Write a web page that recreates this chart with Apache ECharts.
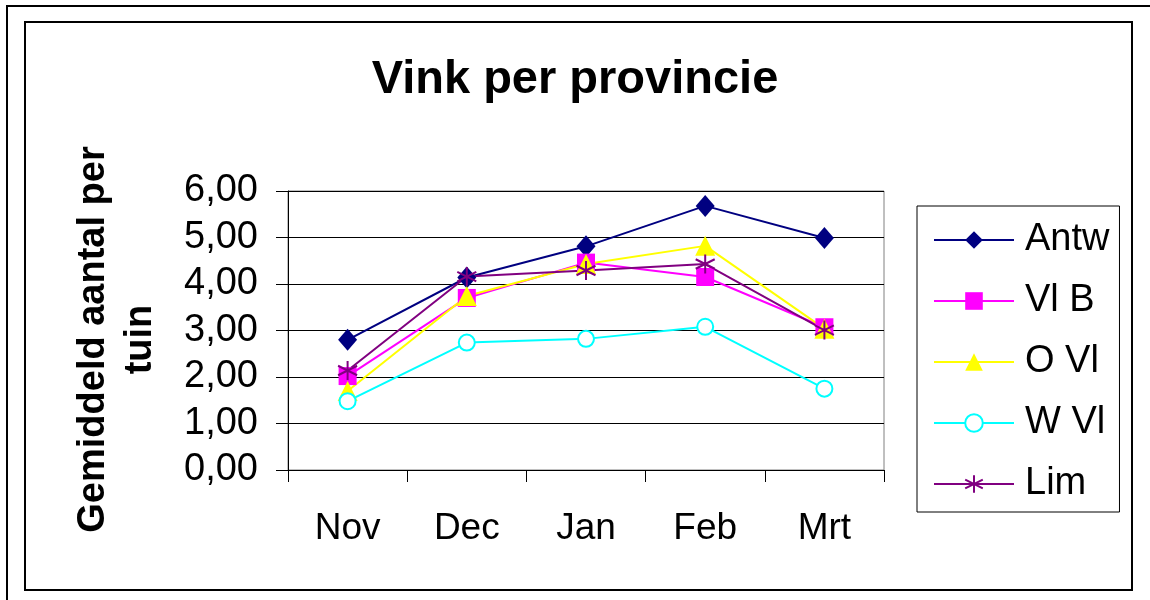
<!DOCTYPE html>
<html>
<head>
<meta charset="utf-8">
<script src="https://cdn.jsdelivr.net/npm/echarts@6/dist/echarts.min.js"></script>
<style>
  html, body { margin: 0; padding: 0; background: #fff; }
  #chart { width: 1150px; height: 600px; }
</style>
</head>
<body>
<div id="chart"></div>
<script>
// maanden en gemiddelden per provincie
var months = ["Nov", "Dec", "Jan", "Feb", "Mrt"];
var antw = [2.80, 4.14, 4.81, 5.68, 4.99];
var vlB = [2.02, 3.70, 4.46, 4.15, 3.07];
var oVl = [1.70, 3.74, 4.43, 4.82, 3.04];
var wVl = [1.48, 2.74, 2.82, 3.08, 1.75];
var lim = [2.14, 4.16, 4.29, 4.43, 3.01];
var yTicks = [0, 1, 2, 3, 4, 5, 6];

var font = "Liberation Sans, Arial, sans-serif";
var star = "path://M5,0L5,10M0.7,2.5L9.3,7.5M0.7,7.5L9.3,2.5";

function serie(name, data, color, symbol, size, extra) {
  var s = {
    name: name,
    type: "line",
    data: data,
    symbol: symbol,
    symbolSize: size,
    lineStyle: { color: color, width: 2 },
    itemStyle: { color: color },
    animation: false
  };
  if (extra) s.itemStyle = extra;
  return s;
}

var myChart = echarts.init(document.getElementById("chart"));
myChart.setOption({
  backgroundColor: "#fff",
  textStyle: { fontFamily: font },
  title: {
    text: "Vink per provincie",
    left: "center",
    top: 52,
    textStyle: { fontSize: 47, fontWeight: "bold", color: "#000", fontFamily: font }
  },
  legend: {
    orient: "vertical",
    left: 917,
    top: 206,
    padding: [14, 10, 8, 16],
    itemWidth: 80,
    itemHeight: 22,
    itemGap: 21,
    borderColor: "#000",
    borderWidth: 1,
    textStyle: { fontSize: 38, color: "#000", lineHeight: 40, padding: [0, 0, 0, 6], fontFamily: font },
    data: ["Antw", "Vl B", "O Vl", "W Vl", "Lim"]
  },
  grid: {
    left: 288,
    top: 191,
    width: 596,
    height: 279,
    show: true,
    borderColor: "#808080",
    borderWidth: 1
  },
  xAxis: {
    type: "category",
    data: months,
    boundaryGap: true,
    axisLine: { lineStyle: { color: "#000", width: 1 } },
    axisTick: { show: true, length: 12, lineStyle: { color: "#000" } },
    axisLabel: { color: "#000", fontSize: 37, margin: 40, fontFamily: font }
  },
  yAxis: {
    type: "value",
    min: yTicks[0],
    max: yTicks[yTicks.length - 1],
    interval: 1,
    name: "Gemiddeld aantal per\ntuin",
    nameLocation: "middle",
    nameRotate: 90,
    nameGap: 124,
    nameTextStyle: { fontSize: 38, fontWeight: "bold", color: "#000", lineHeight: 47, padding: [0, 18, 0, 0], fontFamily: font },
    axisLine: { show: true, lineStyle: { color: "#000", width: 1 } },
    axisTick: { show: true, length: 12, lineStyle: { color: "#000" } },
    axisLabel: {
      color: "#000",
      fontSize: 38,
      margin: 30,
      fontFamily: font,
      formatter: function (v) { return v.toFixed(2).replace(".", ","); }
    },
    splitLine: { lineStyle: { color: "#000", width: 1 } }
  },
  graphic: [
    { type: "rect", shape: { x: 7, y: 6, width: 1170, height: 620 }, style: { fill: "none", stroke: "#000", lineWidth: 2 }, z: 0 },
    { type: "rect", shape: { x: 25, y: 22, width: 1107, height: 568 }, style: { fill: "none", stroke: "#000", lineWidth: 2 }, z: 0 }
  ],
  series: [
    serie("Antw", antw, "#000080", "diamond", [19, 22]),
    serie("Vl B", vlB, "#FF00FF", "rect", 18),
    serie("O Vl", oVl, "#FFFF00", "triangle", 20),
    serie("W Vl", wVl, "#00FFFF", "emptyCircle", 16),
    serie("Lim", lim, "#800080", star, 19, { color: "#800080", borderColor: "#800080", borderWidth: 2 })
  ]
});
</script>
</body>
</html>
